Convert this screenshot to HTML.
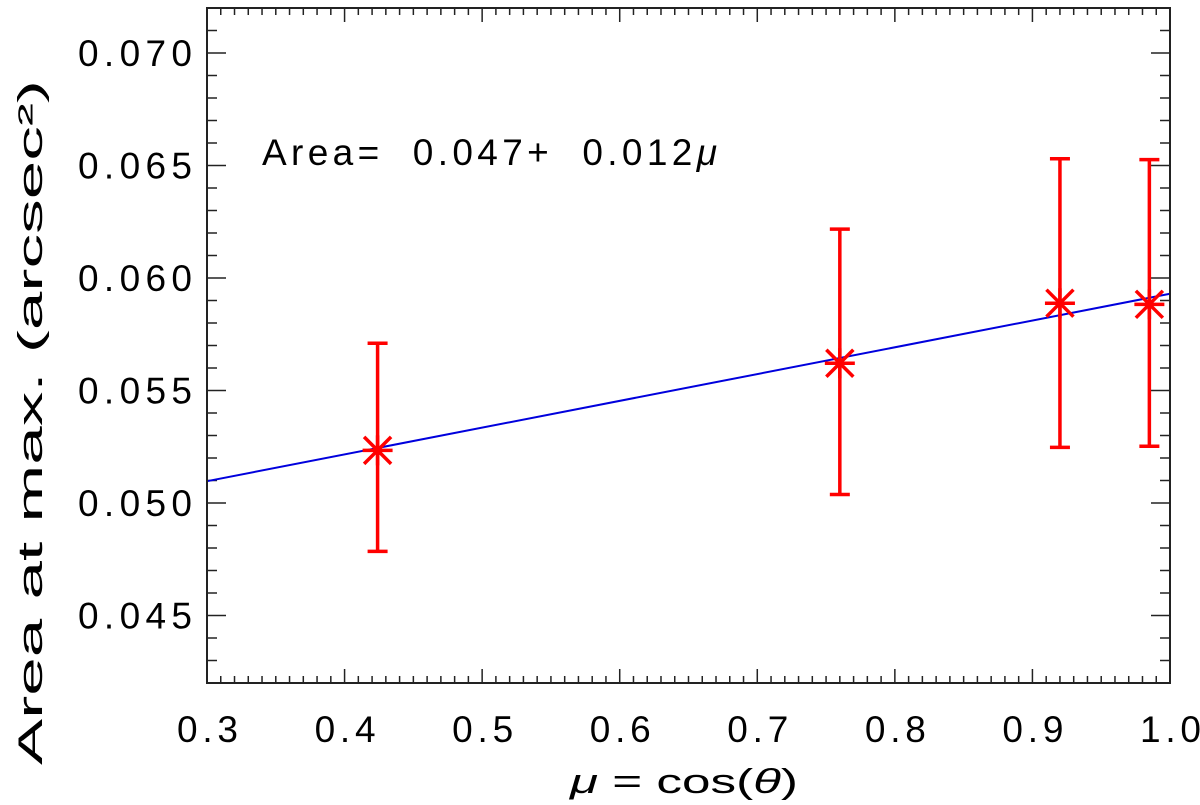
<!DOCTYPE html>
<html><head><meta charset="utf-8"><style>
html,body{margin:0;padding:0;background:#fff;}
svg{display:block;font-family:"Liberation Sans",sans-serif;}
</style></head><body>
<svg id="chart" width="1200" height="805" viewBox="0 0 1200 805" xmlns="http://www.w3.org/2000/svg">
<rect x="0" y="0" width="1200" height="805" fill="#fff"/>
<g id="ticks"></g>
<g id="labels"></g>
<g id="marks"></g>
<rect x="207" y="8" width="963" height="675" fill="none" stroke="#222" stroke-width="2"/>
<text x="262" y="165" font-size="37" fill="#000" textLength="455" lengthAdjust="spacing" style="white-space:pre">Area=  0.047+  0.012<tspan font-style="italic">μ</tspan></text>
<text x="570" y="793" font-size="34" fill="#000" textLength="228" lengthAdjust="spacingAndGlyphs"><tspan font-style="italic">μ</tspan> = cos(<tspan font-style="italic">θ</tspan>)</text>
<text transform="translate(42,765) rotate(-90)" x="0" y="0" font-size="34" fill="#000" textLength="685" lengthAdjust="spacingAndGlyphs">Area at max. (arcsec²)</text>
</svg>
<script>
const xTicks = [0.3,0.4,0.5,0.6,0.7,0.8,0.9,1.0];
const xTickLabels = ["0.3","0.4","0.5","0.6","0.7","0.8","0.9","1.0"];
const yTicks = [0.045,0.050,0.055,0.060,0.065,0.070];
const yTickLabels = ["0.045","0.050","0.055","0.060","0.065","0.070"];
const muValues = [0.424,0.760,0.920,0.985];
const areaValues = [0.05234,0.05621,0.05888,0.05883];
const errLow = [0.04785,0.05038,0.05247,0.05252];
const errHigh = [0.0571,0.06217,0.0653,0.06526];
const fitIntercept = 0.0474;
const fitSlope = 0.0119;

const X0=207,X1=1170,Y0=683,Y1=8;
const xMin=0.3,xMax=1.0,yMin=0.042,yMax=0.072;
function sx(v){return X0+(v-xMin)/(xMax-xMin)*(X1-X0);}
function sy(v){return Y0-(v-yMin)/(yMax-yMin)*(Y0-Y1);}
const NS="http://www.w3.org/2000/svg";
function mk(tag,attrs,parent){const e=document.createElementNS(NS,tag);for(const k in attrs)e.setAttribute(k,attrs[k]);parent.appendChild(e);return e;}
const tg=document.getElementById('ticks'),lg=document.getElementById('labels'),mg=document.getElementById('marks');

for(let i=0;i<=70;i++){
  const v=xMin+i*0.01, x=sx(v), major=(i%10===0), len=major?14:7;
  const b=mk('line',{x1:x,x2:x,y1:Y0,y2:Y0-len,stroke:'#222','stroke-width':1.5},tg);
  
  
  const t=mk('line',{x1:x,x2:x,y1:Y1,y2:Y1+len,stroke:'#222','stroke-width':1.5},tg);
  
  
}
for(let i=0;i<=30;i++){
  const v=yMin+i*0.001, y=sy(v), major=(Math.round(v*1e6)%5000===0), len=major?19:10;
  const l=mk('line',{x1:X0,x2:X0+len,y1:y,y2:y,stroke:'#222','stroke-width':1.5},tg);
  
  
  const r=mk('line',{x1:X1,x2:X1-len,y1:y,y2:y,stroke:'#222','stroke-width':1.5},tg);
  
  
}
xTicks.forEach((v,i)=>{
  const t=mk('text',{x:sx(v)-30,y:742,'font-size':37,fill:'#000',textLength:61,lengthAdjust:'spacing'},lg);
  t.textContent=xTickLabels[i];
  
  
});
yTicks.forEach((v,i)=>{
  const t=mk('text',{x:78,y:sy(v)+13,'font-size':37,fill:'#000',textLength:114,lengthAdjust:'spacing'},lg);
  t.textContent=yTickLabels[i];
  
  
});
const fl=mk('line',{x1:sx(xMin),y1:sy(fitIntercept+fitSlope*xMin),x2:sx(xMax),y2:sy(fitIntercept+fitSlope*xMax),stroke:'#0000dd','stroke-width':2},mg);


muValues.forEach((m,i)=>{
  const g=mk('g',{stroke:'#ff0000','stroke-width':3.5,fill:'none'},mg);
  
  
  const x=sx(m),y=sy(areaValues[i]),yl=sy(errLow[i]),yh=sy(errHigh[i]);
  const e=mk('path',{d:`M${x},${yl}V${yh}M${x-10},${yl}H${x+10}M${x-10},${yh}H${x+10}`},g);
  
  
  const s=15,d=13.5;
  const a=mk('path',{d:`M${x-s},${y}H${x+s}M${x},${y-s}V${y+s}M${x-d},${y-d}L${x+d},${y+d}M${x-d},${y+d}L${x+d},${y-d}`},g);
  
  
});
</script>
</body></html>
